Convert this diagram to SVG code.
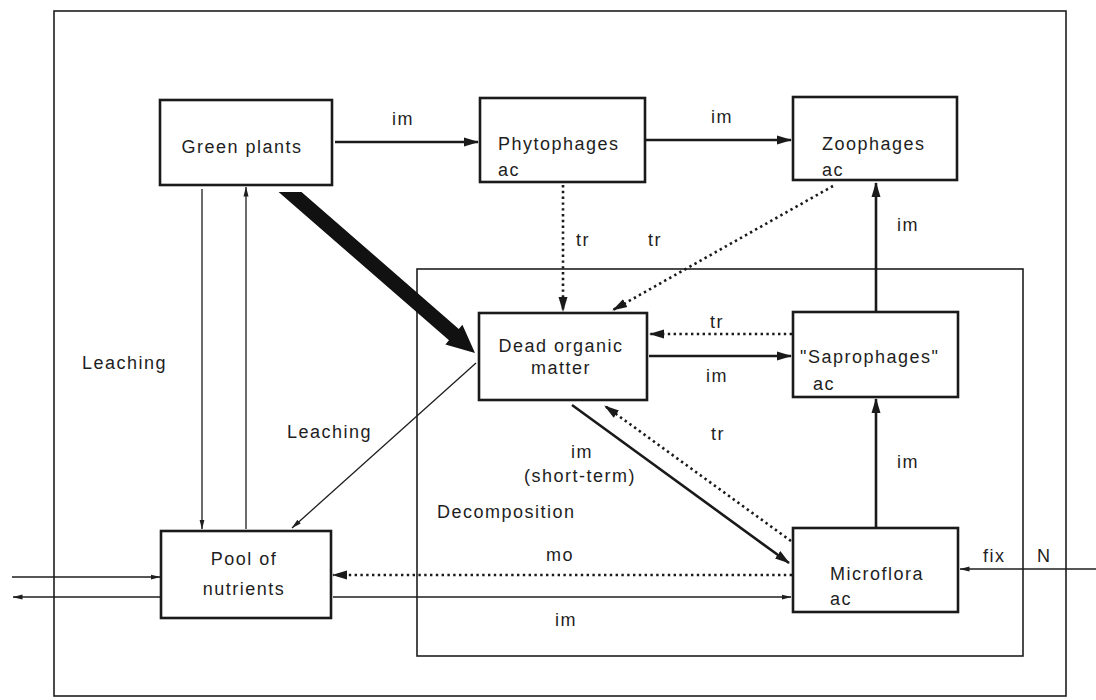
<svg xmlns="http://www.w3.org/2000/svg" width="1096" height="700" viewBox="0 0 1096 700">
<style>
.bg{fill:#ffffff}
.frame{fill:none;stroke:#1e1e1e;stroke-width:1.6}
.box{fill:#ffffff;stroke:#1a1a1a;stroke-width:2.6}
text{font-family:"Liberation Sans",Arial,sans-serif;font-size:18px;fill:#1e1e1e;letter-spacing:1.5px}
.c{text-anchor:middle}
.main{fill:none;stroke:#1a1a1a;stroke-width:2.6}
.thin{fill:none;stroke:#1e1e1e;stroke-width:1.3}
.dot{fill:none;stroke:#1a1a1a;stroke-width:2.6;stroke-dasharray:2.4 3.4}
</style>
<defs>
<marker id="ah" markerWidth="15" markerHeight="10" refX="14" refY="5" orient="auto" markerUnits="userSpaceOnUse"><path d="M0,0.5 L15,5 L0,9.5 Z" fill="#1a1a1a"/></marker>
<marker id="ahs" markerWidth="10" markerHeight="6" refX="9.5" refY="3" orient="auto" markerUnits="userSpaceOnUse"><path d="M0,0.5 L10,3 L0,5.5 Z" fill="#1e1e1e"/></marker>
</defs>
<rect class="bg" x="0" y="0" width="1096" height="700"/>
<g id="frames">
<rect class="frame" x="54" y="11" width="1012" height="685"/>
<rect class="frame" x="417" y="269" width="606" height="387"/>
</g>
<g id="connectors">
<line class="main" x1="335" y1="142" x2="478" y2="142" marker-end="url(#ah)"/>
<line class="main" x1="646" y1="140" x2="791" y2="140" marker-end="url(#ah)"/>
<line class="dot" x1="563" y1="185" x2="563" y2="311" marker-end="url(#ah)"/>
<line class="dot" x1="833" y1="186" x2="613" y2="310" marker-end="url(#ah)"/>
<line class="main" x1="876" y1="311" x2="876" y2="183" marker-end="url(#ah)"/>
<line class="main" x1="876" y1="527" x2="876" y2="399" marker-end="url(#ah)"/>
<line class="main" x1="649" y1="356" x2="791" y2="356" marker-end="url(#ah)"/>
<line class="dot" x1="792" y1="334" x2="650" y2="334" marker-end="url(#ah)"/>
<line class="main" x1="572" y1="405" x2="789" y2="563" marker-end="url(#ah)"/>
<line class="dot" x1="791" y1="541" x2="605" y2="406" marker-end="url(#ah)"/>
<line class="dot" x1="792" y1="575" x2="333" y2="575" marker-end="url(#ah)"/>
<line class="thin" x1="333" y1="597" x2="791" y2="597" marker-end="url(#ahs)"/>
<line class="thin" x1="202" y1="189" x2="202" y2="529" marker-end="url(#ahs)"/>
<line class="thin" x1="246" y1="529" x2="246" y2="187" marker-end="url(#ahs)"/>
<line class="thin" x1="476" y1="363" x2="292" y2="528" marker-end="url(#ahs)"/>
<line class="thin" x1="1096" y1="569" x2="960" y2="569" marker-end="url(#ahs)"/>
<line class="thin" x1="12" y1="577" x2="160" y2="577" marker-end="url(#ahs)"/>
<line class="thin" x1="160" y1="597" x2="13" y2="597" marker-end="url(#ahs)"/>
<polygon points="278.6,192 301.5,192 458.8,328.9 462.4,324.8 475,353 445.4,344.4 449,340.3" fill="#111111"/>
</g>
<g id="labels">
<text class="c" x="403" y="125">im</text>
<text class="c" x="722" y="123">im</text>
<text class="c" x="583" y="246">tr</text>
<text class="c" x="655" y="246">tr</text>
<text x="897" y="231">im</text>
<text x="82" y="369">Leaching</text>
<text class="c" x="717" y="328">tr</text>
<text class="c" x="717" y="382">im</text>
<text x="287" y="438">Leaching</text>
<text class="c" x="582" y="458">im</text>
<text class="c" x="580" y="482">(short-term)</text>
<text x="437" y="518">Decomposition</text>
<text class="c" x="718" y="440">tr</text>
<text x="897" y="468">im</text>
<text class="c" x="560" y="561">mo</text>
<text class="c" x="566" y="626">im</text>
<text x="983" y="562">fix</text>
<text x="1037" y="562">N</text>
</g>
<g id="green-plants">
<rect class="box" x="160" y="100" width="172" height="85"/>
<text class="c" x="242" y="153">Green  plants</text>
</g>
<g id="phytophages">
<rect class="box" x="480" y="98" width="165" height="84"/>
<text x="498" y="150">Phytophages</text>
<text x="498" y="176">ac</text>
</g>
<g id="zoophages">
<rect class="box" x="793" y="97" width="164" height="83"/>
<text x="822" y="150">Zoophages</text>
<text x="822" y="176">ac</text>
</g>
<g id="dead-organic-matter">
<rect class="box" x="479" y="313" width="168" height="87"/>
<text class="c" x="561" y="352">Dead organic</text>
<text class="c" x="561" y="374">matter</text>
</g>
<g id="saprophages">
<rect class="box" x="793" y="312" width="165" height="85"/>
<text x="800" y="363">"Saprophages"</text>
<text x="813" y="390">ac</text>
</g>
<g id="microflora">
<rect class="box" x="793" y="528" width="165" height="84"/>
<text x="830" y="580">Microflora</text>
<text x="830" y="605">ac</text>
</g>
<g id="pool-of-nutrients">
<rect class="box" x="161" y="531" width="170" height="87"/>
<text class="c" x="244" y="565">Pool of</text>
<text class="c" x="244" y="595">nutrients</text>
</g>
</svg>
